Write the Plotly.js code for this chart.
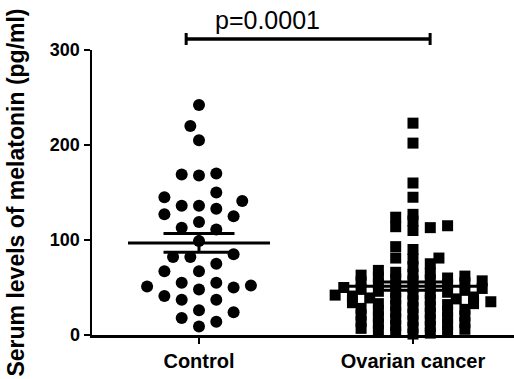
<!DOCTYPE html>
<html>
<head>
<meta charset="utf-8">
<script src="https://cdn.plot.ly/plotly-3.0.1.min.js"></script>
<style>
  html, body { margin: 0; padding: 0; background: #fff; }
  #chart { width: 514px; height: 379px; }
</style>
</head>
<body>
<div id="chart"></div>
<script>
// ---- data ----
const categories = ['Control', 'Ovarian cancer'];
const controlValues = [242, 220, 205, 168, 169, 170, 150, 145, 141, 136, 136, 133, 127, 125, 119,
  113, 111, 99, 85, 82, 82, 75, 67, 67, 55, 55, 51, 48, 50, 52, 37, 37, 41, 26, 24, 18, 14, 9];
const ovarianValues = [223, 202, 160, 145, 124, 115, 113, 110, 114, 120, 127, 90, 93, 80, 81, 81, 75,
  68, 72, 66,
  2, 3, 5, 7, 9, 10, 12, 14, 15, 17, 18, 19, 20, 21, 22, 24, 25, 26, 27, 28, 29, 30,
  31, 32, 33, 34, 35, 36, 37, 38, 39, 40, 41, 42, 43, 44, 45, 45, 46, 47, 48, 49, 50, 50,
  51, 52, 53, 54, 55, 56, 57, 57, 58, 59, 60, 61, 62, 63, 64, 65,
  4, 13, 23, 33, 38, 1, 11, 8, 16, 6];
const yTickVals = [0, 100, 200, 300];
const pValueLabel = 'p=0.0001';
const yAxisTitle = 'Serum levels of melatonin (pg/ml)';

// ---- geometry of the figure ----
const W = 514, H = 379;
const margin = {l: 92, r: 0, t: 50, b: 44};
const xRange = [-0.5, 1.472];
const yRange = [0, 300];
const plotW = W - margin.l - margin.r;
const plotH = H - margin.t - margin.b;
const pxPerX = plotW / (xRange[1] - xRange[0]);
const pxPerY = plotH / (yRange[1] - yRange[0]);

// beeswarm layout: offsets computed from the values (elliptical collision in pixels)
function beeswarm(values, center, step, ax, ay) {
  const order = values.map((v, i) => i).sort((a, b) => values[a] - values[b]);
  const placed = [];
  const xs = new Array(values.length);
  let flip = 1;
  const hit = (p, c, yPx) => {
    const dx = (p.x - c) / ax, dy = (p.y - yPx) / ay;
    return dx * dx + dy * dy < 1;
  };
  for (const i of order) {
    const yPx = values[i] * pxPerY;
    let chosen = null;
    for (let k = 0; k < 60 && chosen === null; k++) {
      const cands = k === 0 ? [0] : [flip * k * step, -flip * k * step];
      for (const c of cands) {
        if (!placed.some(p => hit(p, c, yPx))) { chosen = c; break; }
      }
    }
    if (chosen !== 0) flip = -flip;
    placed.push({x: chosen, y: yPx});
    xs[i] = center + chosen / pxPerX;
  }
  return xs;
}

function meanSem(arr) {
  const n = arr.length;
  const m = arr.reduce((a, b) => a + b, 0) / n;
  const sd = Math.sqrt(arr.reduce((a, b) => a + (b - m) * (b - m), 0) / (n - 1));
  return {mean: m, sem: sd / Math.sqrt(n)};
}

const step = 8.65;
const ctrlX = beeswarm(controlValues, 0, step, 17.2, 16);
const ovX = beeswarm(ovarianValues, 1, step, 17.2, 6.2);

const traces = [
  {
    type: 'scatter', mode: 'markers', name: categories[0],
    x: ctrlX, y: controlValues, cliponaxis: false,
    marker: {symbol: 'circle', size: 12, color: '#000', line: {width: 0}},
    hoverinfo: 'y'
  },
  {
    type: 'scatter', mode: 'markers', name: categories[1],
    x: ovX, y: ovarianValues, cliponaxis: false,
    marker: {symbol: 'square', size: 11, color: '#000', line: {width: 0}},
    hoverinfo: 'y'
  }
];

// mean ± SEM lines
const shapes = [];
const meanHalf = 71 / pxPerX, semHalf = 35.5 / pxPerX;
[controlValues, ovarianValues].forEach((vals, gi) => {
  const s = meanSem(vals);
  const lineStyle = {color: '#000', width: 3};
  shapes.push({type: 'line', xref: 'x', yref: 'y', x0: gi - meanHalf, x1: gi + meanHalf, y0: s.mean, y1: s.mean, line: lineStyle});
  shapes.push({type: 'line', xref: 'x', yref: 'y', x0: gi - semHalf, x1: gi + semHalf, y0: s.mean + s.sem, y1: s.mean + s.sem, line: lineStyle});
  shapes.push({type: 'line', xref: 'x', yref: 'y', x0: gi - semHalf, x1: gi + semHalf, y0: s.mean - s.sem, y1: s.mean - s.sem, line: lineStyle});
  shapes.push({type: 'line', xref: 'x', yref: 'y', x0: gi, x1: gi, y0: s.mean - s.sem, y1: s.mean + s.sem, line: lineStyle});
});

// significance bracket
const bracketY = (margin.t + plotH - 39) / plotH;      // paper coords
const capUp = 6 / plotH;
const bx0 = -0.06, bx1 = 1.08;
const bStyle = {color: '#000', width: 3.5};
shapes.push({type: 'line', xref: 'x', yref: 'paper', x0: bx0, x1: bx1, y0: bracketY, y1: bracketY, line: bStyle});
shapes.push({type: 'line', xref: 'x', yref: 'paper', x0: bx0, x1: bx0, y0: bracketY - capUp, y1: bracketY + capUp, line: {color: '#000', width: 3}});
shapes.push({type: 'line', xref: 'x', yref: 'paper', x0: bx1, x1: bx1, y0: bracketY - capUp, y1: bracketY + capUp, line: {color: '#000', width: 3}});

const annotations = [{
  text: pValueLabel, xref: 'x', yref: 'paper', x: 0.32, y: (margin.t + plotH - 20) / plotH,
  xanchor: 'center', yanchor: 'middle', showarrow: false,
  font: {family: 'Liberation Sans, Arial, sans-serif', size: 25, color: '#000'}
}];

const layout = {
  width: W, height: H, margin: margin,
  paper_bgcolor: '#fff', plot_bgcolor: '#fff',
  showlegend: false,
  font: {family: 'Liberation Sans, Arial, sans-serif', color: '#000'},
  xaxis: {
    range: xRange, tickvals: [0, 1], ticktext: categories,
    showgrid: false, zeroline: false, showline: true, linecolor: '#000', linewidth: 2.5,
    ticks: 'outside', ticklen: 6, tickwidth: 2.5, tickcolor: '#000',
    tickfont: {size: 20, weight: 700, color: '#000'}, fixedrange: true
  },
  yaxis: {
    range: yRange, tickvals: yTickVals,
    showgrid: false, zeroline: false, showline: true, linecolor: '#000', linewidth: 2.5,
    ticks: 'outside', ticklen: 6, tickwidth: 2.5, tickcolor: '#000',
    tickfont: {size: 18, weight: 700, color: '#000'},
    automargin: true,
    title: {text: yAxisTitle, standoff: 19, font: {size: 23, weight: 700, color: '#000'}},
    fixedrange: true
  },
  shapes: shapes,
  annotations: annotations
};

Plotly.newPlot('chart', traces, layout, {displayModeBar: false, staticPlot: true});
</script>
</body>
</html>
